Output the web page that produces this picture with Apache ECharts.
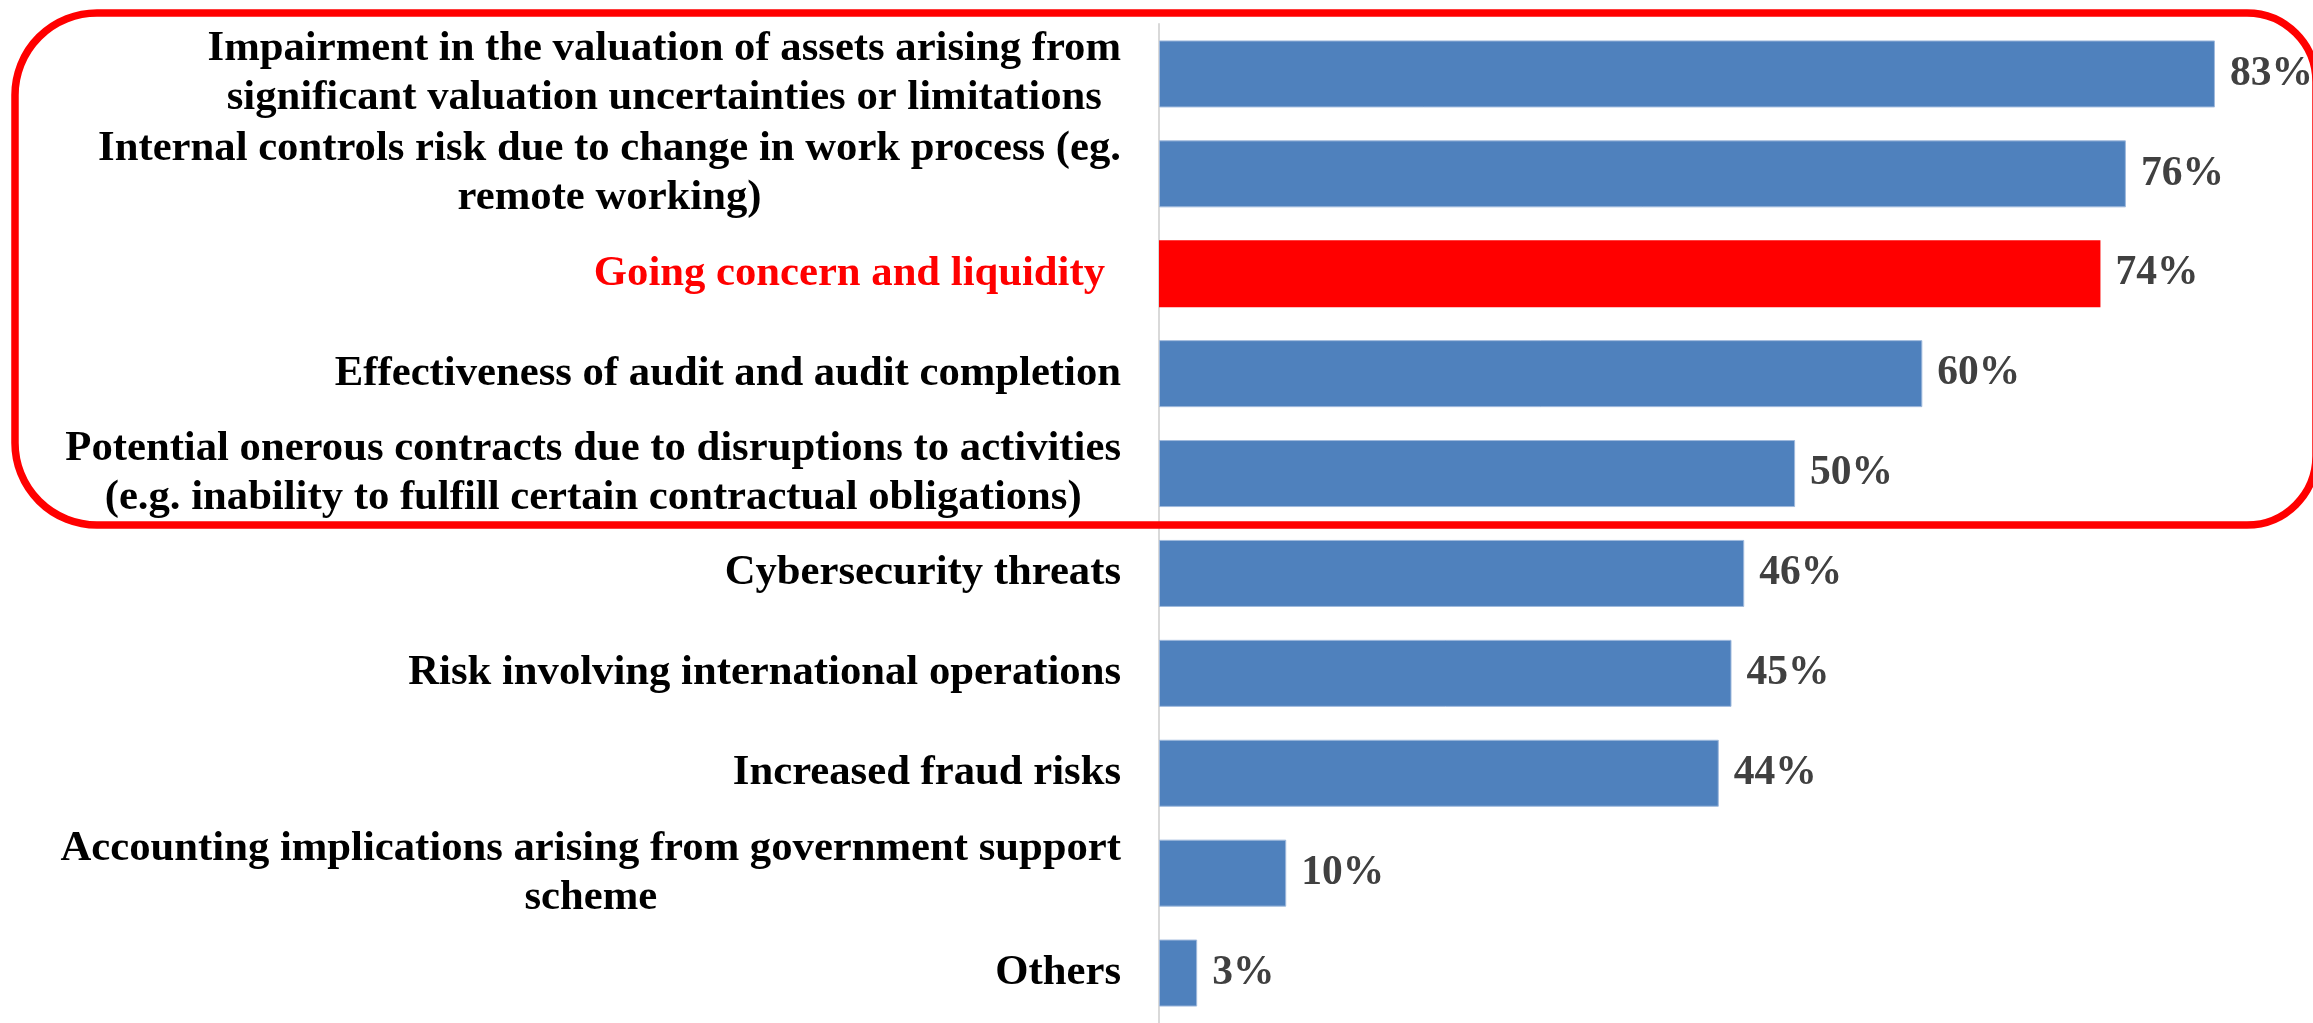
<!DOCTYPE html>
<html>
<head>
<meta charset="utf-8">
<script src="https://cdn.jsdelivr.net/npm/echarts@6/dist/echarts.min.js"></script>
<style>
  html, body { margin: 0; padding: 0; background: #ffffff; }
  #chart { width: 2313px; height: 1023px; }
</style>
</head>
<body>
<div id="chart"></div>
<script>
// categories (top to bottom), line breaks as in the picture
const categories = [
    "Impairment in the valuation of assets arising from\nsignificant valuation uncertainties or limitations",
    "Internal controls risk due to change in work process (eg.\nremote working)",
    "Going concern and liquidity",
    "Effectiveness of audit and audit completion",
    "Potential onerous contracts due to disruptions to activities\n(e.g. inability to fulfill certain contractual obligations)",
    "Cybersecurity threats",
    "Risk involving international operations",
    "Increased fraud risks",
    "Accounting implications arising from government support\nscheme",
    "Others"
];
const percentages = [83, 76, 74, 60, 50, 46, 45, 44, 10, 3];
const highlighted = "Going concern and liquidity";

document.addEventListener("DOMContentLoaded", function () {
    const chart = echarts.init(document.getElementById("chart"));
    const serif = "'Liberation Serif', 'Times New Roman', serif";
    const labelSize = 42.7;

    // barras: rojo para la categoría destacada
    const barData = percentages.map(function (v, i) {
        if (categories[i] === highlighted) {
            return { value: v, itemStyle: { color: "#ff0000", borderWidth: 0 } };
        }
        return v;
    });

    const option = {
        backgroundColor: "#ffffff",
        animation: false,
        grid: { left: 1159, top: 24, width: 1145, height: 1000 },
        xAxis: {
            type: "value",
            min: 0,
            max: 90,
            show: false,
            splitLine: { show: false }
        },
        yAxis: {
            type: "category",
            inverse: true,
            data: categories,
            axisTick: { show: false },
            axisLine: { show: true, lineStyle: { color: "#d9d9d9", width: 2 } },
            axisLabel: {
                interval: 0,
                margin: 38,
                fontFamily: serif,
                fontWeight: "bold",
                fontSize: labelSize,
                lineHeight: 49,
                color: "#000000",
                formatter: function (value) {
                    const style = value === highlighted ? "hl" : "c";
                    return value.split("\n").map(function (line) {
                        return "{" + style + "|" + line + "}";
                    }).join("\n");
                },
                rich: {
                    c: {
                        align: "center",
                        fontFamily: serif,
                        fontWeight: "bold",
                        fontSize: labelSize,
                        lineHeight: 49,
                        color: "#000000"
                    },
                    hl: {
                        align: "center",
                        fontFamily: serif,
                        fontWeight: "bold",
                        fontSize: labelSize,
                        lineHeight: 49,
                        color: "#ff0000",
                        padding: [0, 16, 0, 0]
                    }
                }
            }
        },
        series: [{
            type: "bar",
            data: barData,
            barWidth: 67,
            itemStyle: { color: "#4f81bd", borderColor: "#9fb9dc", borderWidth: 1 },
            label: {
                show: true,
                position: "right",
                distance: 15,
                formatter: "{c}%",
                fontFamily: serif,
                fontWeight: "bold",
                fontSize: 41.5,
                color: "#404040"
            }
        }],
        // recuadro rojo redondeado alrededor de las 5 primeras
        graphic: [{
            type: "rect",
            z: 100,
            silent: true,
            shape: { x: 15, y: 13, width: 2301, height: 512, r: [82, 69, 69, 82] },
            style: { fill: null, stroke: "#ff0000", lineWidth: 7.5 }
        }]
    };

    chart.setOption(option);
});
</script>
</body>
</html>
